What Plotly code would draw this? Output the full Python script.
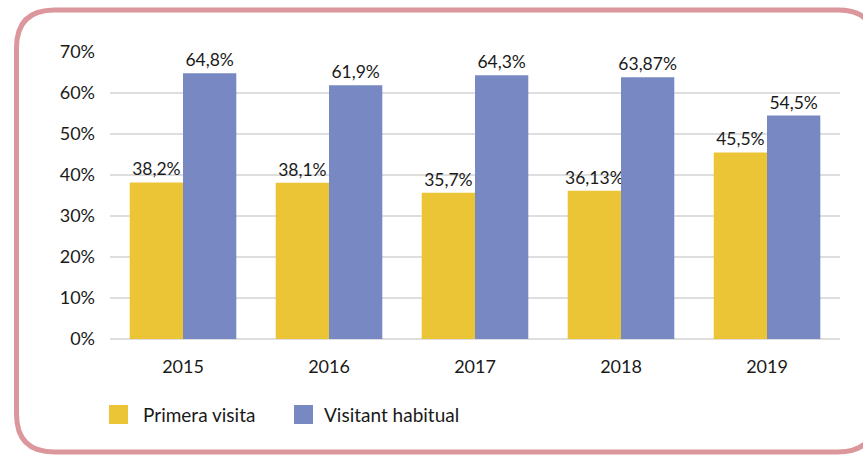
import plotly.graph_objects as go

years = ["2015", "2016", "2017", "2018", "2019"]
primera = [38.2, 38.1, 35.7, 36.13, 45.5]
habitual = [64.8, 61.9, 64.3, 63.87, 54.5]
primera_labels = ["38,2%", "38,1%", "35,7%", "36,13%", "45,5%"]
habitual_labels = ["64,8%", "61,9%", "64,3%", "63,87%", "54,5%"]
tick_vals = [0, 10, 20, 30, 40, 50, 60, 70]
tick_text = ["0%", "10%", "20%", "30%", "40%", "50%", "60%", "70%"]
series_names = ["Primera visita", "Visitant habitual"]
series_colors = ["#ebc536", "#7788c2"]

FONT = "Lato"
W, H = 863, 456
L, R, T, B = 110, 23, 52, 117
pw, ph = W - L - R, H - T - B

fig = go.Figure()
for name, vals, labels, col in zip(series_names, [primera, habitual],
                                    [primera_labels, habitual_labels], series_colors):
    fig.add_trace(go.Bar(x=years, y=vals, name=name,
                         marker=dict(color=col, line=dict(width=0)),
                         text=labels, textposition="outside", constraintext="none",
                         textfont=dict(size=17.5, color="#1a1a1a", family=FONT),
                         cliponaxis=False, showlegend=False, hoverinfo="skip"))

def px2x(p):
    return (p - L) / pw

def px2y(p):
    return (H - B - p) / ph

# rounded frame
x0, x1, y0, y1, r = 16.5, 876, 10, 452, 38
path = (f"M {px2x(x0 + r)},{px2y(y0)} L {px2x(x1 - r)},{px2y(y0)} "
        f"Q {px2x(x1)},{px2y(y0)} {px2x(x1)},{px2y(y0 + r)} "
        f"L {px2x(x1)},{px2y(y1 - r)} "
        f"Q {px2x(x1)},{px2y(y1)} {px2x(x1 - r)},{px2y(y1)} "
        f"L {px2x(x0 + r)},{px2y(y1)} "
        f"Q {px2x(x0)},{px2y(y1)} {px2x(x0)},{px2y(y1 - r)} "
        f"L {px2x(x0)},{px2y(y0 + r)} "
        f"Q {px2x(x0)},{px2y(y0)} {px2x(x0 + r)},{px2y(y0)} Z")
fig.add_shape(type="path", path=path, xref="paper", yref="paper",
              line=dict(color="#dc979c", width=5), layer="below")

# legend (square swatches + labels)
leg_sq_x = [109, 294]
leg_txt_x = [141, 322]
for name, col, sx, tx in zip(series_names, series_colors, leg_sq_x, leg_txt_x):
    fig.add_shape(type="rect", xref="paper", yref="paper",
                  x0=px2x(sx), x1=px2x(sx + 19), y0=px2y(424), y1=px2y(405),
                  fillcolor=col, line=dict(width=0))
    fig.add_annotation(text=name, xref="paper", yref="paper",
                       x=px2x(tx), y=px2y(414), xanchor="left", yanchor="middle",
                       showarrow=False, font=dict(size=19, family=FONT, color="#1a1a1a"))

fig.update_layout(
    width=W, height=H,
    margin=dict(l=L, r=R, t=T, b=B, pad=0),
    paper_bgcolor="white", plot_bgcolor="white",
    barmode="group", bargap=0.27, bargroupgap=0,
    font=dict(family=FONT, size=18, color="#1a1a1a"),
    showlegend=False,
    xaxis=dict(showgrid=False, showline=False, ticks="", tickfont=dict(size=18),
               ticklabelstandoff=15, fixedrange=True),
    yaxis=dict(range=[0, 70], tickvals=tick_vals, ticktext=tick_text,
               showgrid=True, gridcolor="#dedede", gridwidth=2,
               zeroline=True, zerolinecolor="#dedede", zerolinewidth=2,
               showline=False, ticks="", tickfont=dict(size=18),
               ticklabelstandoff=14, fixedrange=True),
)

fig.write_html("out.html", config={"displayModeBar": False, "staticPlot": True},
               post_script="document.body.style.margin='0';document.body.style.overflow='hidden';")
